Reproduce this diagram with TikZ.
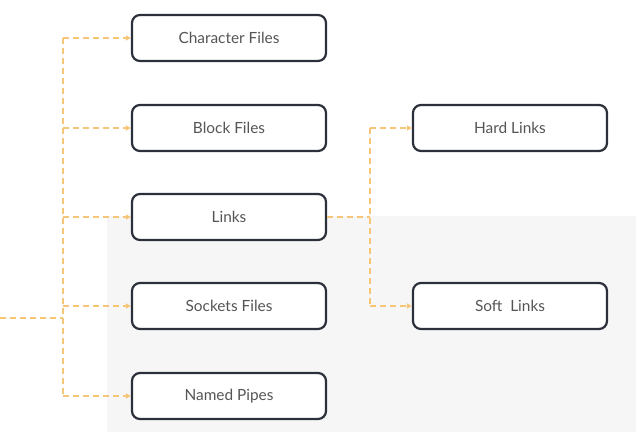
\documentclass[tikz,border=0pt]{standalone}
\usepackage{fontspec}
\setmainfont{Lato}
\usetikzlibrary{arrows.meta}
\definecolor{boxline}{HTML}{2B303B}
\definecolor{txt}{HTML}{555555}
\definecolor{dash}{HTML}{F5C578}
\definecolor{bg}{HTML}{F6F6F6}
\begin{document}
\begin{tikzpicture}[x=1pt,y=-1pt,
  filebox/.style={draw=boxline, line width=2.2pt, rounded corners=8pt, fill=white,
    minimum width=194pt, minimum height=46pt, text=txt, font=\fontsize{15.4}{17}\selectfont, inner sep=0pt},
  conn/.style={draw=dash, line width=1.5pt, dash pattern=on 6pt off 4pt},
  arr/.style={conn, -{Triangle[length=5pt,width=5pt]}}]
\useasboundingbox (0,0) rectangle (636,432);
\fill[bg] (107,216) rectangle (636,432);
\node[filebox] (cf) at (229,38) {Character Files};
\node[filebox] (bf) at (229,128) {Block Files};
\node[filebox] (ln) at (229,217) {Links};
\node[filebox] (sf) at (229,306) {Sockets Files};
\node[filebox] (np) at (229,396) {Named Pipes};
\node[filebox] (hl) at (510,128) {Hard Links};
\node[filebox] (sl) at (510,306) {Soft\ \ Links};
\coordinate (in) at (0,318);
\coordinate (jn) at (63,318);
\coordinate (tt) at (63,38);
\coordinate (tb) at (63,396);
\coordinate (lj) at (370,217);
\path[conn] (in) -- (jn);
\path[conn] (tt) -- (tb);
\path[arr] (tt) -- (cf.west);
\path[arr] (63,128) -- (bf.west);
\path[arr] (63,217) -- (ln.west);
\path[arr] (63,306) -- (sf.west);
\path[arr] (tb) -- (np.west);
\path[conn] (ln.east) -- (lj);
\path[conn] (370,128) -- (370,306);
\path[arr] (370,128) -- (hl.west);
\path[arr] (370,306) -- (sl.west);
\end{tikzpicture}
\end{document}
